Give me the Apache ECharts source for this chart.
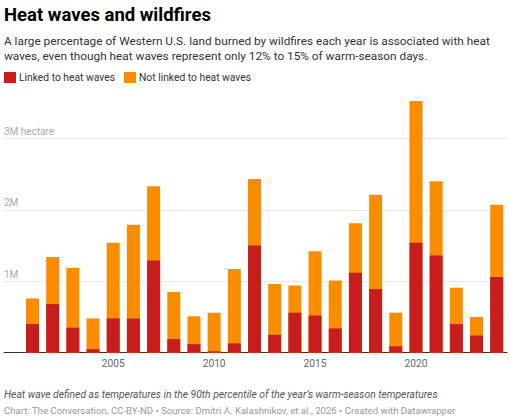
<!DOCTYPE html>
<html>
<head>
<meta charset="utf-8">
<style>
html,body{margin:0;padding:0;background:#fff;}
#chart{width:510px;height:420px;}
</style>
<script src="https://cdn.jsdelivr.net/npm/echarts@6/dist/echarts.min.js"></script>
</head>
<body>
<div id="chart"></div>
<script>
// Data (million hectares)
const years = [2001,2002,2003,2004,2005,2006,2007,2008,2009,2010,2011,2012,2013,2014,2015,2016,2017,2018,2019,2020,2021,2022,2023,2024];
const linked =    [0.40,0.68,0.35,0.05,0.48,0.48,1.29,0.19,0.12,0.02,0.13,1.50,0.25,0.56,0.52,0.34,1.12,0.89,0.09,1.54,1.36,0.40,0.24,1.06];
const notLinked = [0.36,0.66,0.84,0.43,1.06,1.31,1.04,0.66,0.39,0.54,1.04,0.93,0.71,0.38,0.90,0.67,0.69,1.32,0.47,1.98,1.04,0.51,0.26,1.01];
const xTickLabels = [2005,2010,2015,2020];
const yTickLabels = {1:'1M', 2:'2M', 3:'3M hectare'};
const seriesNames = ['Linked to heat waves','Not linked to heat waves'];

// stacked tops (built from the arrays above)
const totals = linked.map((v,i)=>+(v+notLinked[i]).toFixed(3));

const FONT = 'Roboto, "Noto Sans", sans-serif';
const chart = echarts.init(document.getElementById('chart'), null, {renderer:'svg'});
chart.setOption({
  animation:false,
  textStyle:{fontFamily:FONT},
  title:[
    {text:'Heat waves and wildfires', left:4, top:5, padding:0,
     textStyle:{fontFamily:FONT, fontSize:18.5, fontWeight:'bold', color:'#000'}},
    {text:'A large percentage of Western U.S. land burned by wildfires each year is associated with heat\nwaves, even though heat waves represent only 12% to 15% of warm-season days.',
     left:4, top:34, padding:0,
     textStyle:{fontFamily:FONT, fontSize:11.8, lineHeight:14.5, fontWeight:'normal', color:'#333'}},
    {text:'Heat wave defined as temperatures in the 90th percentile of the year\u2019s warm-season temperatures',
     left:4, top:389, padding:0,
     textStyle:{fontFamily:FONT, fontSize:10.3, fontStyle:'italic', fontWeight:'normal', color:'#555'}},
    {text:'Chart: The Conversation, CC-BY-ND \u2022 Source: Dmitri A. Kalashnikov, et al., 2026 \u2022 Created with Datawrapper',
     left:4, top:405, padding:0,
     textStyle:{fontFamily:FONT, fontSize:9.6, fontWeight:'normal', color:'#999'}}
  ],
  legend:{
    left:4, top:72, padding:0, itemGap:9, itemWidth:12, itemHeight:11, icon:'rect',
    textStyle:{fontFamily:FONT, fontSize:10.3, color:'#333', padding:[0,0,0,-2]},
    data:seriesNames
  },
  grid:{left:4, right:3, top:95.4, bottom:67.3, containLabel:false},
  xAxis:{
    type:'value', min:1999.588, max:2024.51,
    splitLine:{show:false},
    axisLine:{show:true, onZero:false, lineStyle:{color:'#333', width:1}},
    axisTick:{show:false},
    axisLabel:{customValues:xTickLabels, color:'#666', fontSize:10.2, margin:6, fontFamily:FONT,
      formatter:v=>String(v)}
  },
  yAxis:{
    type:'value', min:0, max:3.6, interval:1,
    axisLine:{show:false}, axisTick:{show:false},
    splitLine:{show:true, showMaxLine:false, showMinLine:false, lineStyle:{color:'#e8e8e8', width:1}},
    axisLabel:{inside:true, margin:0, align:'left', verticalAlign:'bottom', padding:[0,0,2,0],
      color:'#aaa', fontSize:10, fontFamily:FONT, showMinLabel:false, showMaxLabel:false,
      formatter:v=>yTickLabels[Math.round(v)] || ''}
  },
  series:[
    {name:seriesNames[1], type:'bar', barWidth:13, barGap:'-100%', z:2,
     itemStyle:{color:'#fa8c00'},
     data:years.map((y,i)=>[y,totals[i]])},
    {name:seriesNames[0], type:'bar', barWidth:13, barGap:'-100%', z:3,
     itemStyle:{color:'#c71e1d'},
     data:years.map((y,i)=>[y,linked[i]])}
  ]
});
</script>
</body>
</html>
